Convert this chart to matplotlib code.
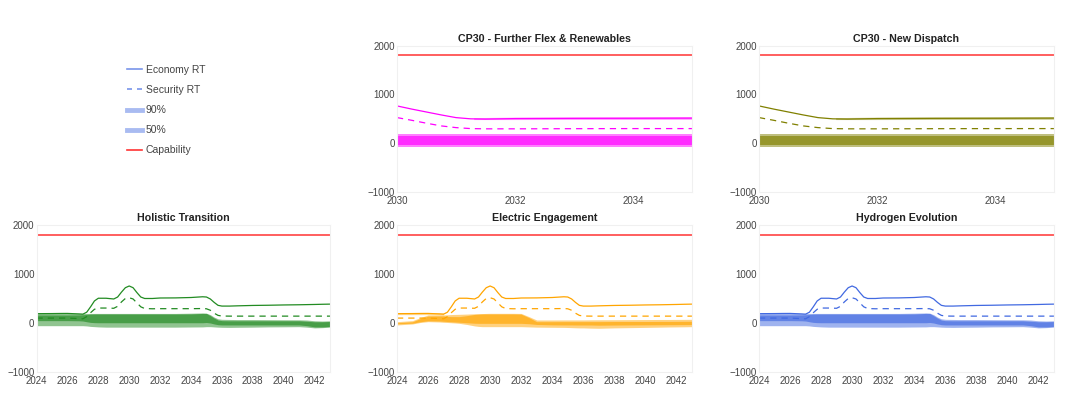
import numpy as np
import matplotlib
matplotlib.use('Agg')
import matplotlib.pyplot as plt
from matplotlib.lines import Line2D

plt.rcParams['font.family'] = ['Liberation Sans', 'DejaVu Sans']

# ---- data -------------------------------------------------------------
# long-horizon scenarios (2024-2043)
years = [2024, 2025, 2025.5, 2026, 2026.75, 2027, 2027.25, 2027.5, 2027.75, 2028,
         2028.5, 2029, 2029.25, 2029.5, 2029.75, 2030, 2030.25, 2030.5, 2030.75, 2031,
         2031.5, 2032, 2032.5, 2033, 2034, 2034.75, 2035, 2035.25, 2035.5, 2035.75,
         2036, 2036.5, 2037, 2038, 2039, 2040, 2041, 2041.5, 2042, 2042.5,
         2043]
economy_rt = [190, 192, 194, 195, 185, 180, 220, 330, 450, 505,
              505, 490, 530, 630, 720, 755, 720, 620, 530, 500,
              500, 510, 511, 512, 520, 535, 530, 490, 420, 360,
              345, 345, 350, 358, 362, 368, 372, 375, 378, 382,
              385]
security_rt = [100, 100, 100, 100, 90, 85, 130, 210, 280, 305,
               305, 300, 340, 430, 500, 515, 490, 410, 330, 295,
               290, 292, 292, 292, 292, 295, 290, 260, 200, 155,
               142, 140, 140, 140, 140, 140, 140, 140, 140, 140,
               140]

# Holistic Transition / Hydrogen Evolution bands
base_p90_lo = [-55, -55, -55, -55, -55, -55, -60, -70, -75, -80,
               -85, -85, -85, -85, -85, -85, -85, -85, -85, -85,
               -85, -85, -85, -85, -82, -80, -75, -75, -80, -85,
               -88, -90, -88, -85, -80, -78, -75, -85, -100, -95,
               -85]
base_p90_hi = [195, 195, 195, 195, 195, 195, 195, 195, 195, 195,
               195, 195, 195, 195, 195, 195, 195, 195, 195, 195,
               195, 195, 195, 195, 200, 205, 200, 170, 120, 85,
               75, 72, 70, 70, 68, 66, 65, 60, 45, 40,
               45]
base_p50_lo = [48, 48, 48, 48, 45, 40, 25, 12, 7, 5,
               5, 5, 5, 5, 5, 5, 5, 5, 5, 5,
               5, 5, 5, 5, 5, 5, 10, 0, -20, -35,
               -40, -40, -40, -40, -40, -40, -40, -55, -80, -80,
               -70]
base_p50_hi = [163, 163, 163, 163, 165, 168, 175, 180, 183, 183,
               183, 183, 183, 183, 183, 183, 183, 183, 183, 183,
               183, 183, 183, 183, 185, 195, 195, 150, 100, 60,
               48, 45, 45, 45, 45, 45, 45, 35, 25, 25,
               30]

# Electric Engagement bands
elec_p90_lo = [-40, -20, 10, 27, 20, 14, 10, 5, 0, -7,
               -30, -60, -70, -75, -75, -75, -75, -75, -75, -75,
               -75, -75, -80, -85, -88, -90, -92, -95, -98, -100,
               -100, -105, -108, -100, -95, -90, -85, -82, -80, -78,
               -75]
elec_p90_hi = [27, 48, 110, 163, 165, 165, 168, 172, 175, 177,
               182, 188, 190, 192, 195, 197, 197, 197, 197, 197,
               197, 195, 130, 61, 61, 62, 62, 62, 62, 62,
               62, 64, 65, 66, 68, 70, 72, 72, 73, 74,
               75]
elec_p50_lo = [-15, -5, 25, 45, 40, 35, 30, 25, 20, 15,
               5, -5, -7, -7, -7, -7, -7, -7, -7, -7,
               -7, -7, -15, -30, -38, -40, -40, -40, -41, -41,
               -41, -41, -45, -42, -40, -38, -36, -35, -34, -33,
               -32]
elec_p50_hi = [5, 25, 90, 140, 143, 143, 135, 130, 130, 129,
               150, 175, 180, 184, 184, 184, 184, 184, 184, 184,
               184, 180, 110, 27, 27, 28, 28, 28, 28, 28,
               28, 28, 28, 30, 30, 30, 32, 32, 33, 34,
               35]
elec_rt_band_years = [2024, 2025, 2026, 2027]
elec_rt_band_lo = [170, 170, 170, 165]
elec_rt_band_hi = [212, 212, 212, 205]

# CP30 scenarios (2030-2035)
cp_years = [2030, 2030.25, 2030.5, 2030.75, 2031, 2031.25, 2031.5, 2032,
            2033, 2034, 2035]
cp_economy_rt = [765, 700, 640, 580, 525, 500, 495, 505, 510, 512, 515]
cp_security_rt = [526, 470, 410, 355, 320, 300, 295, 295, 298, 300, 300]
cp_p90_lo = [-85] * 11
cp_p90_hi = [195] * 11
cp_p50_lo = [-35] * 11
cp_p50_hi = [140] * 11
cp_rt_band_years = [2031.3, 2032, 2033, 2034, 2035]
cp_rt_band_lo = [485, 485, 487, 488, 490]
cp_rt_band_hi = [525, 535, 538, 540, 542]

capability = 1800

panels = [
    # title, colour, kind, position [l, b, w, h]
    ('CP30 - Further Flex & Renewables', '#ff00ff', 'cp', [0.3642, 0.5306, 0.2706, 0.3577]),
    ('CP30 - New Dispatch', '#808000', 'cp', [0.6963, 0.5306, 0.2706, 0.3577]),
    ('Holistic Transition', '#228b22', 'base', [0.0335, 0.0905, 0.2693, 0.3594]),
    ('Electric Engagement', '#ffa500', 'elec', [0.3642, 0.0905, 0.2706, 0.3594]),
    ('Hydrogen Evolution', '#4169e1', 'base', [0.6963, 0.0905, 0.2706, 0.3594]),
]

fig = plt.figure(figsize=(10.9, 4.09), dpi=100)

for title, col, kind, pos in panels:
    ax = fig.add_axes(pos)
    if kind == 'cp':
        x = cp_years
        eco, sec = cp_economy_rt, cp_security_rt
        b90 = (cp_p90_lo, cp_p90_hi)
        b50 = (cp_p50_lo, cp_p50_hi)
        extra = (cp_rt_band_years, cp_rt_band_lo, cp_rt_band_hi)
        xlim = (2030, 2035)
        xticks = [2030, 2032, 2034]
    else:
        x = years
        eco, sec = economy_rt, security_rt
        if kind == 'elec':
            b90 = (elec_p90_lo, elec_p90_hi)
            b50 = (elec_p50_lo, elec_p50_hi)
            extra = (elec_rt_band_years, elec_rt_band_lo, elec_rt_band_hi)
        else:
            b90 = (base_p90_lo, base_p90_hi)
            b50 = (base_p50_lo, base_p50_hi)
            extra = None
        xlim = (2024, 2043)
        xticks = list(range(2024, 2043, 2))

    ax.fill_between(x, b90[0], b90[1], color=col, alpha=0.5, lw=0)
    ax.fill_between(x, b50[0], b50[1], color=col, alpha=0.65, lw=0)
    if extra is not None:
        ax.fill_between(extra[0], extra[1], extra[2], color=col, alpha=0.4, lw=0)
    ax.plot(x, eco, color=col, lw=0.9)
    ax.plot(x, sec, color=col, lw=0.9, ls=(0, (5, 4)))
    ax.axhline(capability, color='#ff3333', lw=1.1)

    ax.set_xlim(*xlim)
    ax.set_ylim(-1000, 2000)
    ax.set_xticks(xticks)
    ax.set_yticks([-1000, 0, 1000, 2000])
    ax.tick_params(length=0, labelsize=7, labelcolor='#444444')
    ax.tick_params(axis='x', pad=3)
    ax.tick_params(axis='y', pad=1.5)
    for s in ax.spines.values():
        s.set_color('#f0f0f0')
        s.set_linewidth(0.8)
    ax.set_title(title, fontsize=7.7, fontweight='bold', color='#222222', pad=3)

# legend in the empty top-left slot
leg_col = '#4169e1'
handles = [
    Line2D([], [], color=leg_col, alpha=0.7, lw=1.2),
    Line2D([], [], color=leg_col, alpha=0.7, lw=1.2, ls=(0, (3, 3))),
    Line2D([], [], color=leg_col, alpha=0.45, lw=3.5),
    Line2D([], [], color=leg_col, alpha=0.45, lw=3.5),
    Line2D([], [], color='#ff3333', lw=1.2),
]
labels = ['Economy RT', 'Security RT', '90%', '50%', 'Capability']
fig.legend(handles, labels, loc='upper left', bbox_to_anchor=(127 / 1090, 1 - 65 / 409),
           frameon=False, fontsize=7.5, labelcolor='#444444', borderpad=0,
           borderaxespad=0, labelspacing=0.97, handlelength=1.45, handletextpad=0.35)

fig.savefig('out.png', dpi=100)
